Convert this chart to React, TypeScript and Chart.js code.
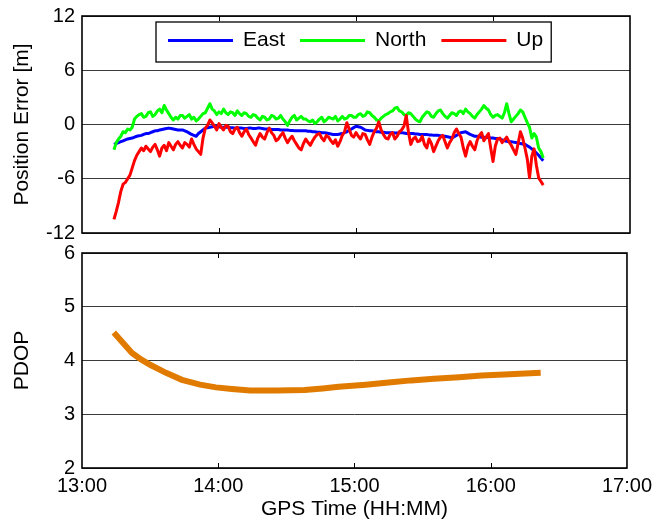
import React, { useEffect, useRef } from "react";
import { Chart, registerables } from "chart.js";

Chart.register(...registerables);

// minutes after 13:00
const errTimes = [
  14, 15, 16, 17, 18, 19, 20, 21, 22, 23,
  24, 25, 26, 27, 28, 29, 30, 31, 32, 33,
  34, 35, 36, 37, 38, 39, 40, 41, 42, 43,
  44, 45, 46, 47, 48, 49, 50, 51, 52, 53,
  54, 55, 56, 57, 58, 59, 60, 61, 62, 63,
  64, 65, 66, 67, 68, 69, 70, 71, 72, 73,
  74, 75, 76, 77, 78, 79, 80, 81, 82, 83,
  84, 85, 86, 87, 88, 89, 90, 91, 92, 93,
  94, 95, 96, 97, 98, 99, 100, 101, 102, 103,
  104, 105, 106, 107, 108, 109, 110, 111, 112, 113,
  114, 115, 116, 117, 118, 119, 120, 121, 122, 123,
  124, 125, 126, 127, 128, 129, 130, 131, 132, 133,
  134, 135, 136, 137, 138, 139, 140, 141, 142, 143,
  144, 145, 146, 147, 148, 149, 150, 151, 152, 153,
  154, 155, 156, 157, 158, 159, 160, 161, 162, 163,
  164, 165, 166, 167, 168, 169, 170, 171, 172, 173,
  174, 175, 176, 177, 178, 179, 180, 181, 182, 183,
  184, 185, 186, 187, 188, 189, 190, 191, 192, 193,
  194, 195, 196, 197, 198, 199, 200, 201, 202,
];

const east = [
  -2.2, -2.1, -2.0, -1.9, -1.8, -1.7, -1.6, -1.55, -1.5, -1.4,
  -1.3, -1.25, -1.2, -1.1, -1.0, -1.0, -0.9, -0.8, -0.7, -0.7,
  -0.6, -0.55, -0.5, -0.45, -0.4, -0.45, -0.5, -0.55, -0.6, -0.6,
  -0.6, -0.7, -0.8, -0.95, -1.1, -1.2, -1.3, -1.0, -0.8, -0.6,
  -0.4, -0.35, -0.3, -0.25, -0.2, -0.2, -0.25, -0.3, -0.3, -0.3,
  -0.3, -0.35, -0.35, -0.4, -0.4, -0.4, -0.4, -0.45, -0.45, -0.4,
  -0.4, -0.45, -0.45, -0.4, -0.4, -0.45, -0.5, -0.5, -0.5, -0.55,
  -0.55, -0.55, -0.55, -0.6, -0.6, -0.6, -0.6, -0.65, -0.65, -0.7,
  -0.7, -0.7, -0.7, -0.7, -0.7, -0.75, -0.75, -0.8, -0.8, -0.85,
  -0.85, -0.9, -0.9, -0.95, -1.0, -1.05, -1.1, -1.1, -1.1, -1.05,
  -1.0, -0.9, -0.8, -0.65, -0.5, -0.35, -0.2, -0.25, -0.3, -0.45,
  -0.6, -0.65, -0.7, -0.7, -0.75, -0.8, -0.8, -0.85, -0.85, -0.9,
  -0.9, -0.9, -0.9, -0.95, -0.95, -0.9, -0.9, -0.95, -1.0, -1.0,
  -1.0, -1.0, -1.05, -1.05, -1.1, -1.1, -1.1, -1.1, -1.15, -1.15,
  -1.2, -1.2, -1.2, -1.25, -1.3, -1.3, -1.35, -1.4, -1.5, -1.35,
  -1.2, -1.05, -0.9, -0.85, -0.8, -0.95, -1.1, -1.2, -1.3, -1.3,
  -1.35, -1.4, -1.4, -1.45, -1.45, -1.5, -1.5, -1.55, -1.55, -1.6,
  -1.7, -1.8, -1.85, -1.9, -1.9, -1.95, -2.0, -2.05, -2.1, -2.15,
  -2.2, -2.35, -2.5, -2.7, -2.9, -3.15, -3.4, -3.7, -4.0,
];

const north = [
  -2.8, -2.0, -1.6, -1.3, -0.8, -0.9, -0.5, -0.6, -0.3, 0.6,
  0.9, 1.1, 1.2, 0.8, 0.9, 1.3, 1.4, 0.9, 1.1, 1.5,
  1.7, 1.3, 2.1, 1.6, 1.2, 0.8, 0.5, 0.8, 0.6, 1.0,
  1.0, 0.7, 0.9, 1.1, 0.6, 0.8, 0.4, 0.6, 0.9, 1.2,
  1.3, 1.8, 2.3, 1.7, 1.5, 1.1, 1.4, 1.2, 1.7, 1.3,
  1.1, 1.4, 1.3, 1.0, 1.5, 1.2, 1.0, 1.3, 1.2, 0.9,
  0.8, 1.1, 1.0, 0.7, 0.5, 0.9, 0.8, 0.5, 0.6, 1.0,
  0.9, 0.6, 0.7, 1.0, 0.6, 0.3, -0.1, 0.4, 0.8, 1.0,
  0.5, 0.7, 0.9, 0.6, 0.6, 0.4, 0.3, 0.5, 0.1, 0.3,
  0.6, 0.8, 0.3, 0.5, 0.8, 0.7, 0.6, 0.9, 0.4, 0.6,
  0.9, 0.6, 0.7, 1.0, 1.0, 0.8, 0.8, 1.1, 1.2, 0.9,
  1.0, 1.4, 1.3, 1.0, 0.8, 0.5, 0.4, 0.7, 0.9, 1.1,
  1.2, 1.4, 1.5, 1.8, 1.9, 1.5, 1.4, 1.1, 1.0, 1.3,
  1.2, 0.9, 0.6, 0.4, 0.3, 0.8, 1.1, 1.4, 1.3, 0.9,
  0.8, 1.2, 1.5, 1.6, 1.2, 0.9, 0.7, 1.0, 1.3, 1.2,
  1.0, 1.4, 1.5, 1.2, 1.7, 1.4, 1.2, 0.9, 0.7, 1.1,
  1.4, 1.7, 2.1, 1.8, 1.6, 1.1, 0.8, 1.0, 1.1, 0.9,
  0.7, 1.3, 2.3, 1.2, 0.3, 0.6, 0.9, 1.2, 1.6, 1.4,
  0.8, 0.2, -0.3, -1.5, -1.0, -1.4, -2.6, -3.0, -3.7,
];

const up = [
  -10.5, -9.6, -8.6, -7.4, -6.6, -6.4, -6.0, -5.6, -4.8, -4.0,
  -3.4, -3.0, -2.6, -2.9, -2.4, -2.7, -3.0, -2.5, -2.2, -2.8,
  -3.5, -2.6, -2.3, -2.9, -2.0, -2.4, -2.8, -2.2, -1.9, -2.3,
  -2.6, -2.0, -2.2, -2.5, -1.6, -2.2, -2.7, -3.0, -3.3, -1.5,
  -0.4, -0.1, 0.5, 0.2, -0.2, -0.6, 0.1, -0.3, -0.6, -0.1,
  -0.2, -0.8, -1.0, -0.5, -0.3, -0.9, -1.3, -0.8, -0.5, -1.1,
  -1.5, -1.9, -2.3, -1.5, -1.0, -1.4, -1.6, -0.9, -0.4, -0.9,
  -1.2, -1.8, -1.6, -1.2, -0.9, -1.5, -2.0, -1.6, -1.3, -1.8,
  -2.2, -2.6, -2.8, -2.1, -1.6, -2.0, -2.3, -1.8, -1.4, -1.1,
  -1.0, -1.5, -1.8, -1.2, -1.4, -1.8, -2.1, -1.7, -2.4, -1.9,
  -1.2, -0.8, 0.2, -0.5, -1.2, -1.4, -0.9, -1.3, -1.6, -1.0,
  -1.1, -1.7, -2.2, -1.4, -0.8, -0.4, 0.3, -0.6, -1.1, -1.5,
  -1.6, -1.1, -0.9, -1.6, -1.3, -0.8, -0.6, -0.2, 1.0, -0.9,
  -2.2, -1.6, -1.4, -1.9, -1.8, -1.3, -2.2, -2.6, -1.6, -2.1,
  -3.0, -2.4, -1.8, -1.4, -1.2, -1.9, -2.6, -2.0, -1.6, -0.9,
  -0.5, -1.0, -1.4, -2.6, -3.5, -2.4, -1.9, -2.4, -2.8, -1.8,
  -1.2, -0.9, -1.8, -1.4, -1.0, -2.6, -4.1, -2.4, -1.6, -1.5,
  -2.0, -1.7, -1.4, -1.9, -2.3, -2.8, -3.3, -2.1, -0.8, -1.5,
  -2.6, -3.8, -5.9, -3.5, -2.7, -4.5, -5.9, -6.3, -6.7,
];

const pdopTimes = [14, 18, 22, 26, 30, 37, 44, 52, 59, 66, 74, 86, 98, 106, 113, 125, 135, 145, 155, 166, 176, 186, 202];
const pdop = [4.52, 4.33, 4.14, 4.02, 3.92, 3.77, 3.64, 3.55, 3.5, 3.47, 3.44, 3.44, 3.45, 3.48, 3.51, 3.55, 3.59, 3.63, 3.66, 3.69, 3.72, 3.74, 3.77];

const xTickLabels = ["13:00", "14:00", "15:00", "16:00", "17:00"];
const seriesNames = ["East", "North", "Up"];
const seriesColors = ["#0000ff", "#00ff00", "#ff0000"];
const pdopColor = "#e07b00";

const FONT = "'Liberation Sans', Arial, Helvetica, sans-serif";
const GRID = "#3a3a3a";

const framePlugin = {
  id: "frame",
  afterDatasetsDraw(chart: any) {
    const { ctx, chartArea: a, scales } = chart;
    const xs = scales.x;
    ctx.save();
    ctx.strokeStyle = "#000";
    ctx.lineWidth = 1;
    (xs.ticks || []).forEach((t: any) => {
      const px = Math.round(xs.getPixelForValue(t.value)) + 0.5;
      if (px <= a.left + 1 || px >= a.right - 1) return;
      ctx.beginPath();
      ctx.moveTo(px, a.bottom);
      ctx.lineTo(px, a.bottom - 5);
      ctx.moveTo(px, a.top);
      ctx.lineTo(px, a.top + 5);
      ctx.stroke();
    });
    ctx.lineWidth = 1.6;
    ctx.strokeRect(a.left, a.top, a.right - a.left, a.bottom - a.top);
    ctx.restore();
  },
};

const legendPlugin = {
  id: "boxLegend",
  afterDraw(chart: any) {
    const { ctx, chartArea: a } = chart;
    const ds = chart.data.datasets;
    const left = a.left + 74;
    const top = a.top + 6;
    const h = 40;
    const midY = top + 18.5;
    ctx.save();
    ctx.font = `21px ${FONT}`;
    let cursor = left + 12;
    const items: any[] = [];
    ds.forEach((d: any) => {
      const w = ctx.measureText(d.label).width;
      items.push({ x: cursor, color: d.borderColor, label: d.label });
      cursor = cursor + 75 + w + 15;
    });
    const right = cursor - 15 + 8;
    ctx.fillStyle = "#fff";
    ctx.fillRect(left, top, right - left, h);
    ctx.strokeStyle = "#000";
    ctx.lineWidth = 1.3;
    ctx.strokeRect(left, top, right - left, h);
    items.forEach((it) => {
      ctx.strokeStyle = it.color;
      ctx.lineWidth = 3;
      ctx.beginPath();
      ctx.moveTo(it.x, midY);
      ctx.lineTo(it.x + 65, midY);
      ctx.stroke();
      ctx.fillStyle = "#000";
      ctx.textBaseline = "middle";
      ctx.textAlign = "left";
      ctx.fillText(it.label, it.x + 75, midY);
    });
    ctx.restore();
  },
};

function yAxis(min: number, max: number, step: number, title: string) {
  return {
    type: "linear" as const,
    position: "left" as const,
    min,
    max,
    afterFit: (s: any) => {
      s.width = 82;
      s.paddingTop = 0;
      s.paddingBottom = 0;
    },
    ticks: {
      stepSize: step,
      padding: 7,
      color: "#000",
      font: { family: FONT, size: 20 },
    },
    grid: { color: GRID, lineWidth: 1, drawTicks: false, drawOnChartArea: true },
    border: { display: false },
    title: {
      display: true,
      text: title,
      color: "#000",
      font: { family: FONT, size: 21 },
      padding: { top: 10, bottom: 0 },
    },
  };
}

export default function App() {
  const topRef = useRef<HTMLCanvasElement>(null);
  const botRef = useRef<HTMLCanvasElement>(null);

  useEffect(() => {
    const errSeries = [east, north, up];
    const c1 = new Chart(topRef.current!, {
      type: "line",
      data: {
        datasets: seriesNames.map((name, i) => ({
          label: name,
          data: errTimes.map((t, k) => ({ x: t, y: errSeries[i][k] })),
          borderColor: seriesColors[i],
          backgroundColor: seriesColors[i],
          borderWidth: 3,
          pointRadius: 0,
          tension: 0,
          borderJoinStyle: "round" as const,
          order: 3 - i,
        })),
      },
      options: {
        responsive: false,
        animation: false,
        layout: { padding: { left: 0, right: 28, top: 16, bottom: 12 } },
        plugins: { legend: { display: false }, tooltip: { enabled: false } },
        scales: {
          x: {
            type: "linear",
            min: 0,
            max: 240,
            afterFit: (s: any) => {
              s.height = 0;
              s.paddingLeft = 0;
              s.paddingRight = 0;
            },
            ticks: { display: false, stepSize: 60 },
            grid: { display: false },
            border: { display: false },
          },
          y: yAxis(-12, 12, 6, "Position Error [m]"),
        },
      } as any,
      plugins: [framePlugin, legendPlugin],
    });

    const c2 = new Chart(botRef.current!, {
      type: "line",
      data: {
        datasets: [
          {
            label: "PDOP",
            data: pdopTimes.map((t, k) => ({ x: t, y: pdop[k] })),
            borderColor: pdopColor,
            backgroundColor: pdopColor,
            borderWidth: 6,
            pointRadius: 0,
            tension: 0,
          },
        ],
      },
      options: {
        responsive: false,
        animation: false,
        layout: { padding: { left: 0, right: 28, top: 15, bottom: 0 } },
        plugins: { legend: { display: false }, tooltip: { enabled: false } },
        scales: {
          x: {
            type: "linear",
            min: 0,
            max: 240,
            afterFit: (s: any) => {
              s.height = 54;
            },
            ticks: {
              stepSize: 60,
              padding: 6,
              color: "#000",
              maxRotation: 0,
              font: { family: FONT, size: 20 },
              callback: (v: any) => xTickLabels[Math.round(Number(v) / 60)] ?? "",
            },
            grid: { display: false, drawTicks: false },
            border: { display: false },
            title: {
              display: true,
              text: "GPS Time (HH:MM)",
              color: "#000",
              font: { family: FONT, size: 21 },
              padding: { top: 0, bottom: 0 },
            },
          },
          y: yAxis(2, 6, 1, "PDOP"),
        },
      } as any,
      plugins: [framePlugin],
    });

    return () => {
      c1.destroy();
      c2.destroy();
    };
  }, []);

  return (
    <div
      style={{
        position: "absolute",
        left: 0,
        top: 0,
        width: 658,
        height: 522,
        background: "#fff",
        overflow: "hidden",
      }}
    >
      <canvas
        ref={topRef}
        width={658}
        height={245}
        style={{ position: "absolute", left: 0, top: 0, width: 658, height: 245 }}
      />
      <canvas
        ref={botRef}
        width={658}
        height={284}
        style={{ position: "absolute", left: 0, top: 238, width: 658, height: 284 }}
      />
    </div>
  );
}
